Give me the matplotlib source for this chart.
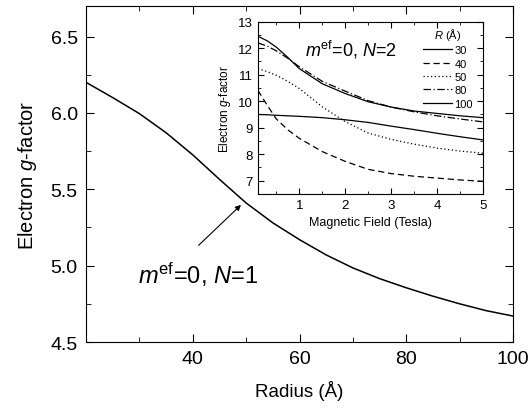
import numpy as np
import matplotlib
matplotlib.use("Agg")
import matplotlib.pyplot as plt
from matplotlib.ticker import MultipleLocator, FormatStrFormatter

plt.rcParams['font.family'] = ['Liberation Sans', 'DejaVu Sans']
plt.rcParams['mathtext.fontset'] = 'custom'
plt.rcParams['mathtext.rm'] = 'Liberation Sans'
plt.rcParams['mathtext.it'] = 'Liberation Sans:italic'

# main panel: g-factor vs radius (N=1)
radius = [20, 25, 30, 35, 40, 45, 50, 55, 60, 65, 70, 75, 80, 85, 90, 95, 100]
g_n1 = [6.20, 6.10, 5.995, 5.87, 5.725, 5.565, 5.41, 5.28, 5.17, 5.07,
        4.985, 4.915, 4.855, 4.80, 4.75, 4.705, 4.67]

# inset: g-factor vs magnetic field (N=2)
field = [0.1, 0.3, 0.5, 0.75, 1.0, 1.5, 2.0, 2.5, 3.0, 3.5, 4.0, 4.5, 5.0]
g_30 = [9.50, 9.49, 9.47, 9.45, 9.43, 9.38, 9.30, 9.20, 9.06, 8.93, 8.79, 8.66, 8.54]
g_40 = [10.41, 9.85, 9.33, 8.92, 8.60, 8.10, 7.73, 7.43, 7.27, 7.17, 7.10, 7.03, 6.98]
g_50 = [11.23, 11.12, 10.98, 10.75, 10.48, 9.79, 9.23, 8.80, 8.56, 8.38, 8.23, 8.12, 8.04]
g_80 = [12.20, 12.08, 11.90, 11.62, 11.30, 10.75, 10.38, 10.02, 9.78, 9.60, 9.45, 9.33, 9.22]
g_100 = [12.45, 12.28, 12.04, 11.65, 11.23, 10.66, 10.29, 9.98, 9.78, 9.63, 9.54, 9.45, 9.38]
labels = ['30', '40', '50', '80', '100']

fig = plt.figure(figsize=(5.28, 4.10), dpi=100)
ax = fig.add_axes([0.163, 0.1634, 0.8086, 0.8196])
ax.plot(radius, g_n1, color='black', lw=1.1)
ax.set_xlim(20, 100)
ax.set_ylim(4.5, 6.7)
ax.set_xticks([40, 60, 80, 100])
ax.set_xticks([30, 50, 70, 90], minor=True)
ax.yaxis.set_major_locator(MultipleLocator(0.5))
ax.yaxis.set_minor_locator(MultipleLocator(0.25))
ax.tick_params(which='both', direction='in', top=True, right=True, labelsize=14)
ax.tick_params(which='major', length=6, pad=6)
ax.tick_params(which='minor', length=3.5)
ax.yaxis.set_major_formatter(FormatStrFormatter('%.1f'))
ax.set_xlabel('Radius (Å)', fontsize=13.5, labelpad=9)
ax.set_ylabel('Electron $g$-factor', fontsize=14.5, labelpad=8)
ax.annotate('', xy=(49.4, 5.41), xytext=(40.7, 5.12),
            arrowprops=dict(arrowstyle='-|>', color='black', lw=0.8,
                            mutation_scale=8))
ax.text(29.7, 4.886, r'$m^{\rm ef}$=0, $N$=1', fontsize=17,
        ha='left', va='baseline')

ins = fig.add_axes([0.4886, 0.5244, 0.4262, 0.4202])
styles = ['-', (0, (5, 3)), (0, (1, 2)), (0, (6, 2, 1, 2)), '-']
for ys, ls, lab in zip([g_30, g_40, g_50, g_80, g_100], styles, labels):
    ins.plot(field, ys, color='black', lw=0.9, linestyle=ls, label=lab)
ins.set_xlim(0.1, 5)
ins.set_ylim(6.5, 13)
ins.xaxis.set_major_locator(MultipleLocator(1))
ins.xaxis.set_minor_locator(MultipleLocator(0.5))
ins.yaxis.set_major_locator(MultipleLocator(1))
ins.yaxis.set_minor_locator(MultipleLocator(0.5))
ins.tick_params(which='both', direction='in', top=True, right=True, labelsize=9.5)
ins.tick_params(which='major', length=4)
ins.tick_params(which='minor', length=2)
ins.set_xlabel('Magnetic Field (Tesla)', fontsize=9)
ins.set_ylabel('Electron $g$-factor', fontsize=8.5)
ins.text(1.12, 11.73, r'$m^{\rm ef}$=0, $N$=2', fontsize=13,
         ha='left', va='baseline')
leg = ins.legend(loc='upper right', title='$R$ (Å)', fontsize=8,
                 title_fontsize=8, frameon=False, handlelength=2.6,
                 handletextpad=0.2, labelspacing=0.3, borderpad=0,
                 borderaxespad=0, bbox_to_anchor=(0.955, 0.975))

fig.savefig('out.png', dpi=100)
